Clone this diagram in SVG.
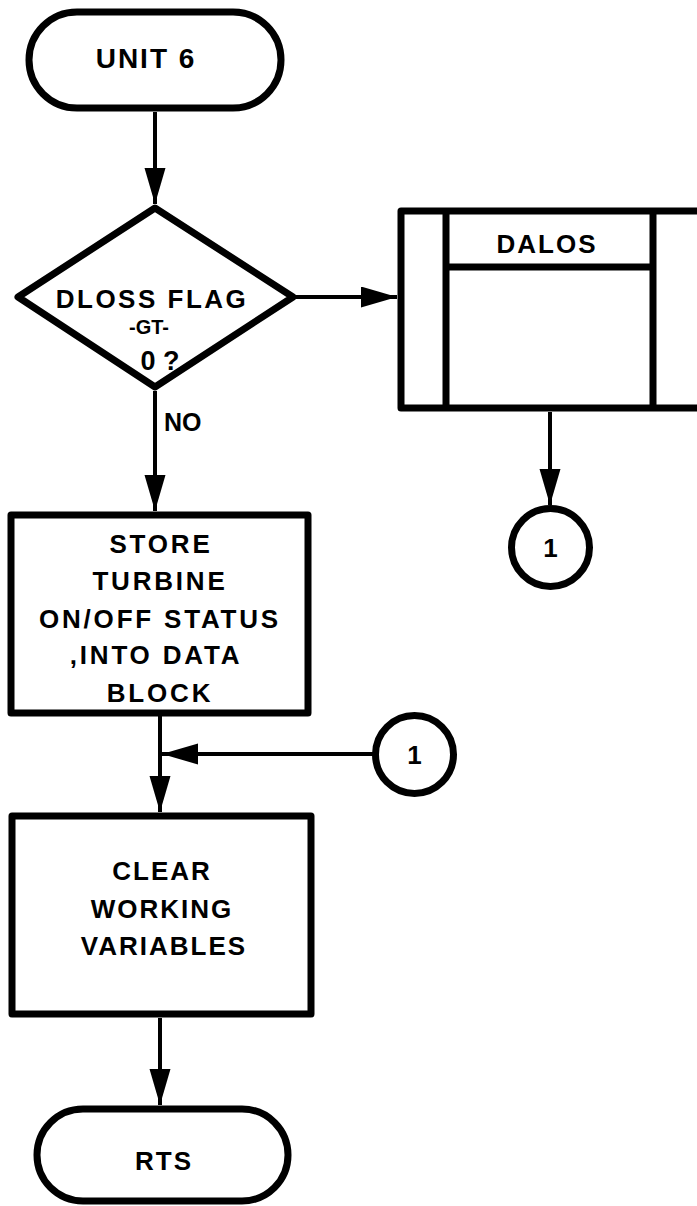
<svg xmlns="http://www.w3.org/2000/svg" width="697" height="1206" viewBox="0 0 697 1206">
<defs>
<style>
.shape{fill:none;stroke:#000;stroke-width:7;stroke-linejoin:round}
.line{fill:none;stroke:#000;stroke-width:4}
.t{font-family:"Liberation Sans",Arial,sans-serif;font-weight:bold;font-size:26px;fill:#000;text-anchor:middle}
.ls2{letter-spacing:2px}
.ls3{letter-spacing:2.8px}
</style>
<marker id="arr" markerUnits="userSpaceOnUse" markerWidth="40" markerHeight="24" refX="36" refY="10.5" orient="auto">
<path d="M0,0 L36,10.5 L0,21 z" fill="#000"/>
</marker>
</defs>
<rect width="697" height="1206" fill="#fff"/>
<g id="connectors">
<line class="line" x1="155" y1="112" x2="155" y2="204" marker-end="url(#arr)"/>
<line class="line" x1="296" y1="297" x2="397" y2="297" marker-end="url(#arr)"/>
<line class="line" x1="155" y1="391" x2="155" y2="511" marker-end="url(#arr)"/>
<line class="line" x1="550" y1="412" x2="550" y2="505" marker-end="url(#arr)"/>
<line class="line" x1="160" y1="716" x2="160" y2="812" marker-end="url(#arr)"/>
<line class="line" x1="375" y1="754" x2="162" y2="754" marker-end="url(#arr)"/>
<line class="line" x1="160" y1="1018" x2="160" y2="1105" marker-end="url(#arr)"/>
</g>
<g id="unit6">
<rect class="shape" x="29" y="12" width="252" height="96" rx="48"/>
<text class="t ls2" style="font-size:28px" x="146" y="68">UNIT 6</text>
</g>
<g id="decision">
<polygon class="shape" points="155,208 293,297 155,387 18,297"/>
<text class="t" style="letter-spacing:2.5px" x="152" y="308">DLOSS FLAG</text>
<text class="t" style="font-size:20px" x="149" y="334">-GT-</text>
<text class="t" style="font-size:27px" x="160" y="370">0 ?</text>
<text class="t" style="text-anchor:start;font-size:25px" x="164" y="431">NO</text>
</g>
<g id="dalos">
<path class="shape" d="M730,211 L401,211 L401,408 L730,408"/>
<line class="shape" x1="446" y1="211" x2="446" y2="408"/>
<line class="shape" x1="653" y1="211" x2="653" y2="408"/>
<line class="shape" x1="446" y1="267" x2="653" y2="267"/>
<text class="t ls2" x="547" y="253">DALOS</text>
</g>
<g id="conn1a">
<circle class="shape" cx="550.5" cy="547.5" r="39"/>
<text class="t" x="550.5" y="557">1</text>
</g>
<g id="store">
<rect class="shape" x="11" y="515" width="297" height="198"/>
<text class="t ls3" x="161" y="553">STORE</text>
<text class="t ls3" x="160" y="590">TURBINE</text>
<text class="t ls3" x="160" y="628">ON/OFF STATUS</text>
<text class="t ls3" x="156" y="664">,INTO DATA</text>
<text class="t ls3" x="160" y="702">BLOCK</text>
</g>
<g id="conn1b">
<circle class="shape" cx="414.5" cy="754.5" r="39"/>
<text class="t" x="414.5" y="764">1</text>
</g>
<g id="clear">
<rect class="shape" x="12" y="816" width="299" height="198"/>
<text class="t ls2" x="162" y="880">CLEAR</text>
<text class="t ls2" x="162" y="918">WORKING</text>
<text class="t ls2" x="164" y="955">VARIABLES</text>
</g>
<g id="rts">
<rect class="shape" x="37" y="1109" width="251" height="92" rx="46"/>
<text class="t ls2" x="164" y="1170">RTS</text>
</g>
</svg>
